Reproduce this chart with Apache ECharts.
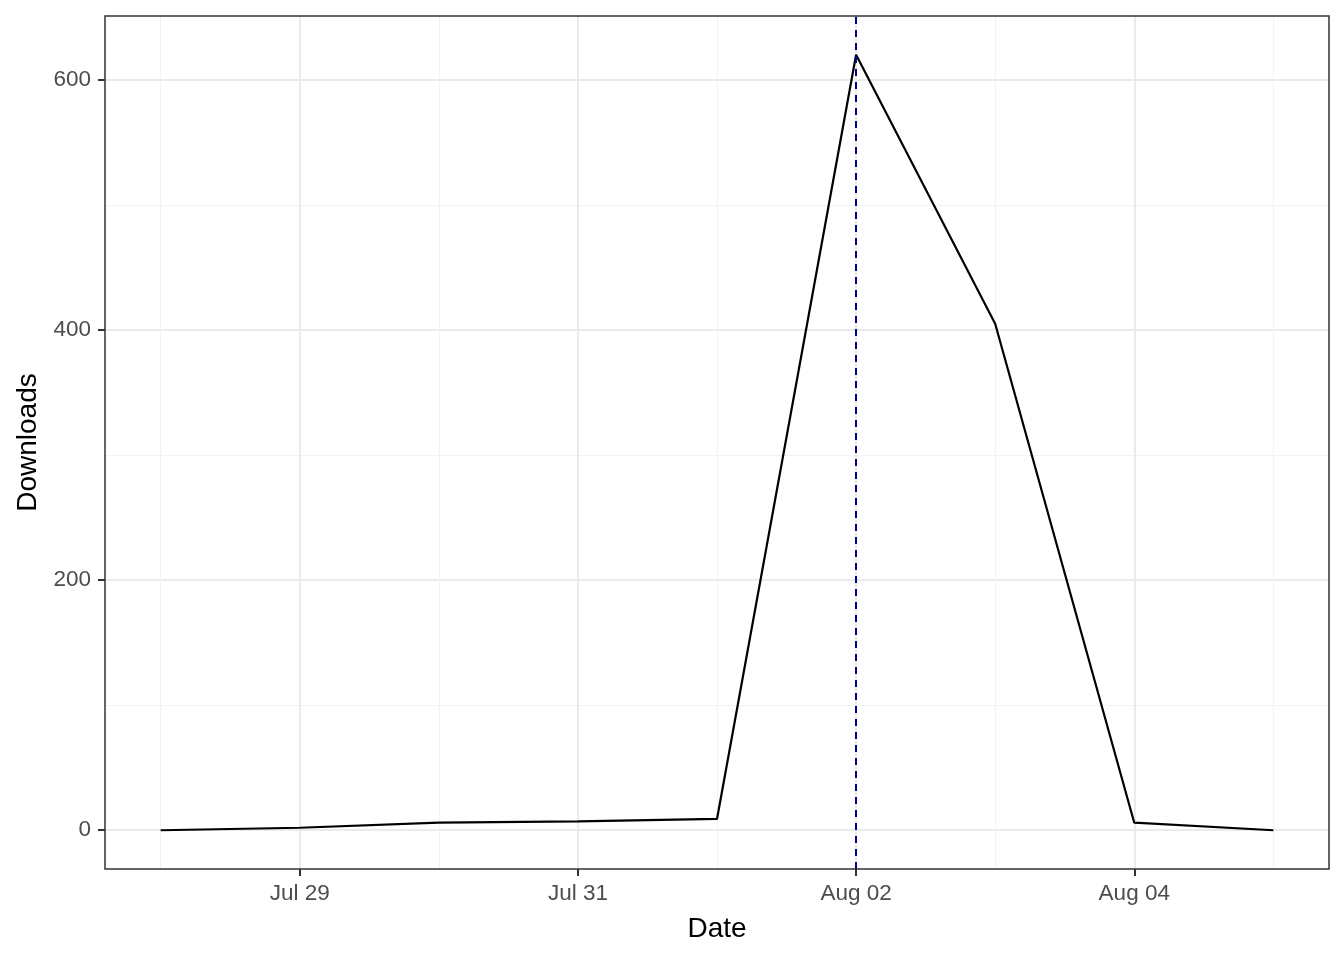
<!DOCTYPE html>
<html>
<head>
<meta charset="utf-8">
<script src="https://cdn.jsdelivr.net/npm/echarts@6/dist/echarts.min.js"></script>
<style>html,body{margin:0;padding:0;background:#fff}#c{width:1344px;height:960px}</style>
</head>
<body>
<div id="c"></div>
<script>
const dates = ['2023-07-28','2023-07-29','2023-07-30','2023-07-31','2023-08-01','2023-08-02','2023-08-03','2023-08-04','2023-08-05'];
const downloads = [0, 2, 6, 7, 9, 620, 405, 6, 0];
const xMajorTicks = ['2023-07-29','2023-07-31','2023-08-02','2023-08-04'];
const xMinorTicks = ['2023-07-28','2023-07-30','2023-08-01','2023-08-03','2023-08-05'];
const yMajorTicks = [0, 200, 400, 600];
const yMinorTicks = [100, 300, 500];
const releaseDate = '2023-08-02';

const ts = s => Date.parse(s + 'T00:00:00Z');
const xs = dates.map(ts);
const xMin = Math.min(...xs), xMax = Math.max(...xs);
const xPad = (xMax - xMin) * 0.05;
const yMin = Math.min(...downloads), yMax = Math.max(...downloads);
const yPad = (yMax - yMin) * 0.05;
const MON = ['Jan','Feb','Mar','Apr','May','Jun','Jul','Aug','Sep','Oct','Nov','Dec'];
const fmt = v => { const d = new Date(v); return MON[d.getUTCMonth()] + ' ' + String(d.getUTCDate()).padStart(2,'0'); };
const font = 'Liberation Sans, Arial, Helvetica, sans-serif';

const chart = echarts.init(document.getElementById('c'), null, {renderer:'canvas'});
const xBase = {type:'value', min:xMin - xPad, max:xMax + xPad, gridIndex:0};
const yBase = {type:'value', min:yMin - yPad, max:yMax + yPad, gridIndex:0};
chart.setOption({
  animation:false,
  backgroundColor:'#fff',
  grid:{left:105, right:15, top:16, bottom:91, show:true, borderColor:'#333333', borderWidth:1.5, backgroundColor:'transparent', z:3},
  xAxis:[
    Object.assign({}, xBase, {
      position:'bottom', name:'Date', nameLocation:'middle', nameGap:46,
      nameTextStyle:{color:'#000', fontSize:28, fontFamily:font},
      axisLine:{show:false, onZero:false},
      axisTick:{show:true, length:7, lineStyle:{color:'#333333', width:2}, customValues:xMajorTicks.map(ts)},
      axisLabel:{show:true, margin:13, color:'#4D4D4D', fontSize:22.5, fontFamily:font, customValues:xMajorTicks.map(ts), formatter:fmt},
      splitLine:{show:true, lineStyle:{color:'#EBEBEB', width:2}}
    }),
    Object.assign({}, xBase, {
      position:'bottom', axisLine:{show:false, onZero:false},
      axisTick:{show:false, customValues:xMinorTicks.map(ts)},
      axisLabel:{show:false, customValues:xMinorTicks.map(ts)},
      splitLine:{show:true, lineStyle:{color:'#F2F2F2', width:1}}
    })
  ],
  yAxis:[
    Object.assign({}, yBase, {
      position:'left', name:'Downloads', nameLocation:'middle', nameGap:63, nameRotate:90,
      nameTextStyle:{color:'#000', fontSize:28, fontFamily:font},
      axisLine:{show:false, onZero:false},
      axisTick:{show:true, length:7, lineStyle:{color:'#333333', width:2}, customValues:yMajorTicks},
      axisLabel:{show:true, margin:14, color:'#4D4D4D', fontSize:22.5, fontFamily:font, customValues:yMajorTicks},
      splitLine:{show:true, lineStyle:{color:'#EBEBEB', width:2}}
    }),
    Object.assign({}, yBase, {
      position:'left', axisLine:{show:false, onZero:false},
      axisTick:{show:false, customValues:yMinorTicks},
      axisLabel:{show:false, customValues:yMinorTicks},
      splitLine:{show:true, lineStyle:{color:'#F2F2F2', width:1}}
    })
  ],
  series:[{
    type:'line', xAxisIndex:0, yAxisIndex:0,
    data: xs.map((x,i) => [x, downloads[i]]),
    showSymbol:false, symbol:'none',
    lineStyle:{color:'#000', width:2.2},
    z:4,
    markLine:{
      silent:true, symbol:['none','none'], label:{show:false},
      lineStyle:{color:'#00008B', type:[7,6], width:2},
      data:[{xAxis: ts(releaseDate)}]
    }
  }]
});
</script>
</body>
</html>
